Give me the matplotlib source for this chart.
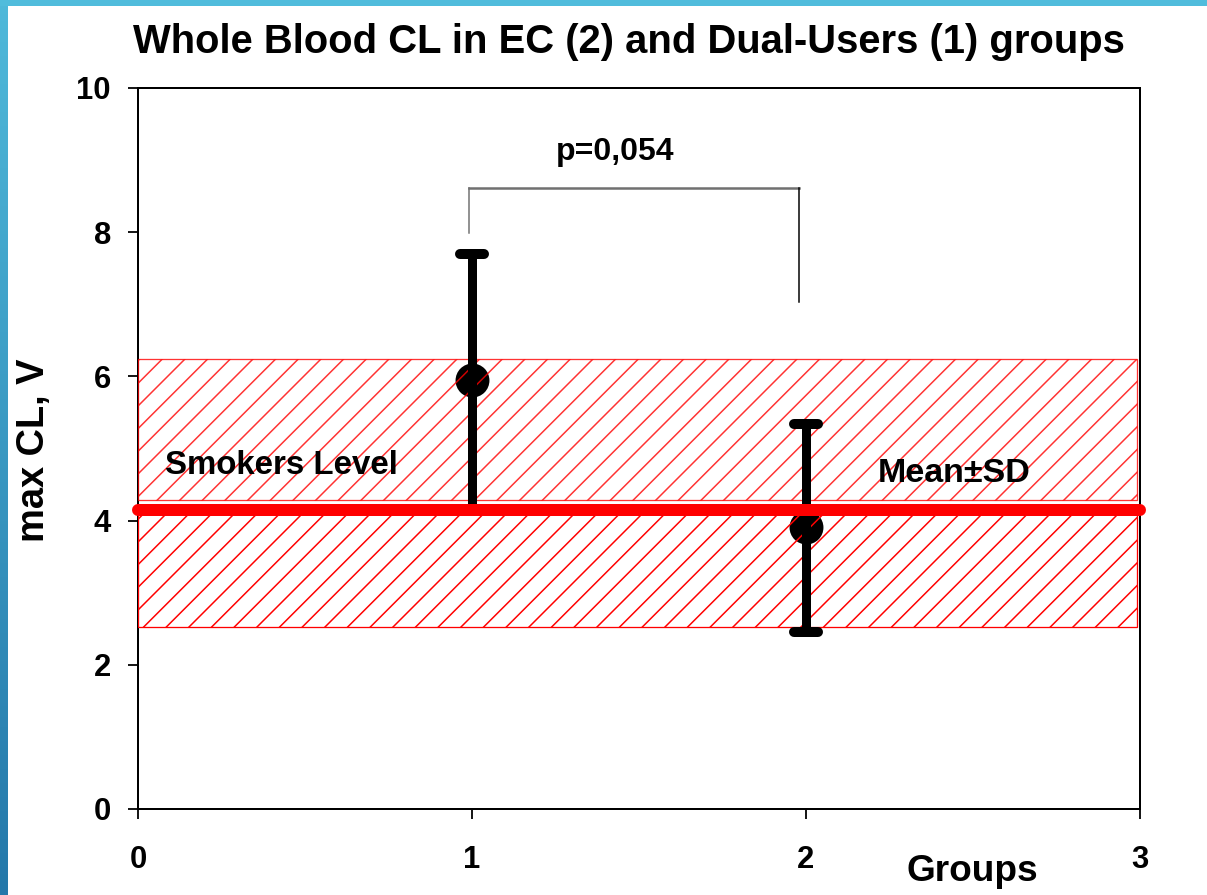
import numpy as np
import matplotlib
matplotlib.use("Agg")
import matplotlib.pyplot as plt
from matplotlib.patches import Rectangle
from matplotlib.colors import LinearSegmentedColormap

# ---------------- data ----------------
groups = [1, 2]
means = [5.95, 3.91]
err_low = [1.80, 1.45]
err_high = [1.75, 1.43]
smokers_mean = 4.15
band_upper = [4.29, 6.24]
band_lower = [2.53, 4.15]
band_x = [0.0, 2.99]
bracket_x = [0.99, 1.98]
bracket_y = [7.99, 8.61, 7.03]
p_text = "p=0,054"
xticks = [0, 1, 2, 3]
yticks = [0, 2, 4, 6, 8, 10]

DPI = 136
W, H = 1207, 895
P = 72.0 / DPI  # px -> pt

plt.rcParams['font.family'] = ['Liberation Sans', 'DejaVu Sans']
plt.rcParams['font.weight'] = 'bold'
plt.rcParams['hatch.linewidth'] = 0.8
plt.rcParams['hatch.color'] = '#ff0000'

fig = plt.figure(figsize=(W / DPI, H / DPI), dpi=DPI)
fig.patch.set_facecolor('white')

# decorative borders (left gradient, top bar)
bax = fig.add_axes([0, 0, 8 / W, 1])
cmap = LinearSegmentedColormap.from_list('b', ['#2478aa', '#4fb9da'])
bax.imshow(np.linspace(0, 1, 256)[:, None], aspect='auto', cmap=cmap, origin='lower')
bax.axis('off')
tax = fig.add_axes([0, 1 - 6 / H, 1, 6 / H])
tax.set_facecolor('#50bcdc')
tax.set_xticks([]); tax.set_yticks([])
for s in tax.spines.values():
    s.set_visible(False)

ax = fig.add_axes([138 / W, 1 - 809 / H, (1140 - 138) / W, (809 - 88) / H])
ax.set_xlim(0, 3)
ax.set_ylim(0, 10)

# error bars (stems)
for g, m, lo, hi in zip(groups, means, err_low, err_high):
    ax.plot([g, g], [m - lo, m + hi], color='black', lw=9 * P, solid_capstyle='butt', zorder=4)
    for yv in (m - lo, m + hi):
        ax.plot([g - 0.035, g + 0.035], [yv, yv], color='black', lw=10 * P,
                solid_capstyle='round', zorder=4)
# markers (under hatch)
ax.plot(groups, means, 'o', color='black', ms=32 * P, zorder=2)

# hatched smokers band
for lo_hi, a in ((band_upper, 0.8), (band_lower, 1.0)):
    r = Rectangle((band_x[0], lo_hi[0]), band_x[1] - band_x[0], lo_hi[1] - lo_hi[0],
                  facecolor='none', edgecolor='#ff0000', hatch='//', lw=1.3 * P, alpha=a, zorder=3)
    ax.add_patch(r)

# smokers level line
ax.plot([0, 3], [smokers_mean, smokers_mean], color='#ff0000', lw=12 * P,
        solid_capstyle='round', zorder=5, clip_on=False)

# significance bracket
ax.plot([bracket_x[0], bracket_x[0]], [bracket_y[0], bracket_y[1]], color='#707070', lw=1.5 * P, zorder=6)
ax.plot([bracket_x[0], bracket_x[1]], [bracket_y[1], bracket_y[1]], color='#707070', lw=2.5 * P, zorder=6)
ax.plot([bracket_x[1], bracket_x[1]], [bracket_y[1], bracket_y[2]], color='black', lw=1.5 * P, zorder=6)
ax.text(1.43, 9.11, p_text, ha='center', va='center', fontsize=32 * P, fontweight='bold')

ax.text(0.08, 4.77, "Smokers Level", ha='left', va='center', fontsize=33 * P, fontweight='bold', zorder=7)
ax.text(2.216, 4.66, "Mean±SD", ha='left', va='center', fontsize=34 * P, fontweight='bold', zorder=7)

# axes styling
for s in ax.spines.values():
    s.set_linewidth(2 * P)
    s.set_color('black')
ax.set_xticks(xticks)
ax.set_yticks(yticks)
ax.tick_params(axis='both', direction='out', length=10 * P, width=1.8 * P, labelsize=31 * P)
ax.tick_params(axis='x', pad=26 * P)
ax.tick_params(axis='y', pad=17 * P)
for lab in ax.get_xticklabels() + ax.get_yticklabels():
    lab.set_fontweight('bold')

ax.set_xlabel("Groups", fontsize=37 * P, fontweight='bold')
ax.xaxis.set_label_coords(0.833, -0.062)
ax.set_ylabel("max CL, V", fontsize=38 * P, fontweight='bold')
ax.yaxis.set_label_coords(-0.086, 0.498)

fig.text(629 / W, 1 - 42 / H, "Whole Blood CL in EC (2) and Dual-Users (1) groups",
         ha='center', va='center', fontsize=40 * P, fontweight='bold')

fig.savefig("out.png", dpi=DPI)
